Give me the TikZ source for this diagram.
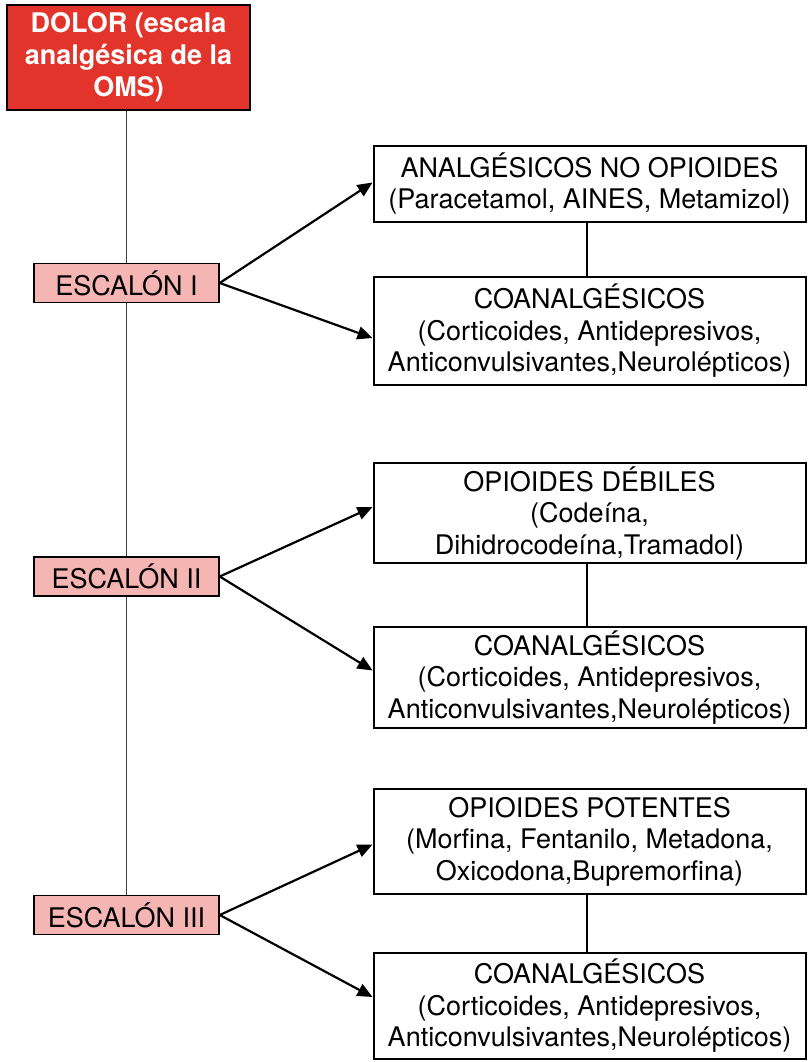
\documentclass[tikz,border=0pt]{standalone}
\usepackage{fontspec}
\setmainfont{TeX Gyre Heros}
\usetikzlibrary{arrows.meta}
\definecolor{dolorred}{HTML}{E3342B}
\definecolor{escpink}{HTML}{F4B5B3}
\begin{document}
\begin{tikzpicture}[x=1pt,y=1pt,
    dolorbox/.style={draw=black,line width=2pt,fill=dolorred,text=white,font=\fontsize{27}{32}\selectfont\bfseries,
      align=center,minimum width=243pt,minimum height=105pt,inner sep=0pt},
    escbox/.style={draw=black,line width=1.5pt,fill=escpink,font=\fontsize{27}{30}\selectfont,
      minimum width=185pt,minimum height=39pt,inner sep=0pt},
    medbox/.style={draw=black,line width=2pt,fill=white,font=\fontsize{27}{31.5}\selectfont,
      align=center,minimum width=432pt,inner sep=0pt},
    trunk/.style={black!75,line width=1pt},
    link/.style={black,line width=2pt},
    flecha/.style={black,line width=2.2pt,-{Triangle[length=15pt,width=13pt]}}]
  \useasboundingbox (0,0) rectangle (807,-1062);

  \node[dolorbox] (dolor) at (128.5,-57.5){DOLOR (escala\\analgésica de la\\OMS)};

  \node[escbox] (esc1) at (126.5,-283){ESCALÓN I};
  \node[escbox] (esc2) at (126.5,-576.5){ESCALÓN II};
  \node[escbox] (esc3) at (126.5,-915){ESCALÓN III};

  % escalon I
  \node[medbox,minimum height=76pt] (noop) at (589.5,-183.5){ANALGÉSICOS NO OPIOIDES\\(Paracetamol, AINES, Metamizol)};
  \node[medbox,minimum height=108pt] (coan1) at (589.5,-331){COANALGÉSICOS\\(Corticoides, Antidepresivos,\\Anticonvulsivantes,Neurolépticos)};
  % escalon II
  \node[medbox,minimum height=100pt] (debil) at (589.5,-513){OPIOIDES DÉBILES\\(Codeína,\\Dihidrocodeína,Tramadol)};
  \node[medbox,minimum height=101pt] (coan2) at (589.5,-677.5){COANALGÉSICOS\\(Corticoides, Antidepresivos,\\Anticonvulsivantes,Neurolépticos)};
  % escalon III
  \node[medbox,minimum height=105pt] (poten) at (589.5,-841.5){OPIOIDES POTENTES\\(Morfina, Fentanilo, Metadona,\\Oxicodona,Bupremorfina)};
  \node[medbox,minimum height=106pt] (coan3) at (589.5,-1006){COANALGÉSICOS\\(Corticoides, Antidepresivos,\\Anticonvulsivantes,Neurolépticos)};

  \draw[trunk] (esc1.north |- dolor.south) -- (esc1.north);
  \draw[trunk] (esc1.south) -- (esc2.north);
  \draw[trunk] (esc2.south) -- (esc3.north);

  \draw[link] ([xshift=-3pt]noop.south) -- ([xshift=-3pt]coan1.north);
  \draw[link] ([xshift=-3pt]debil.south) -- ([xshift=-3pt]coan2.north);
  \draw[link] ([xshift=-3pt]poten.south) -- ([xshift=-3pt]coan3.north);

  \draw[flecha] (esc1.east) -- ([yshift=1pt]noop.west);
  \draw[flecha] (esc1.east) -- ([yshift=-7pt]coan1.west);
  \draw[flecha] (esc2.east) -- ([yshift=6pt]debil.west);
  \draw[flecha] (esc2.east) -- ([yshift=7pt]coan2.west);
  \draw[flecha] (esc3.east) -- ([yshift=-3pt]poten.west);
  \draw[flecha] (esc3.east) -- ([yshift=9pt]coan3.west);
\end{tikzpicture}
\end{document}
